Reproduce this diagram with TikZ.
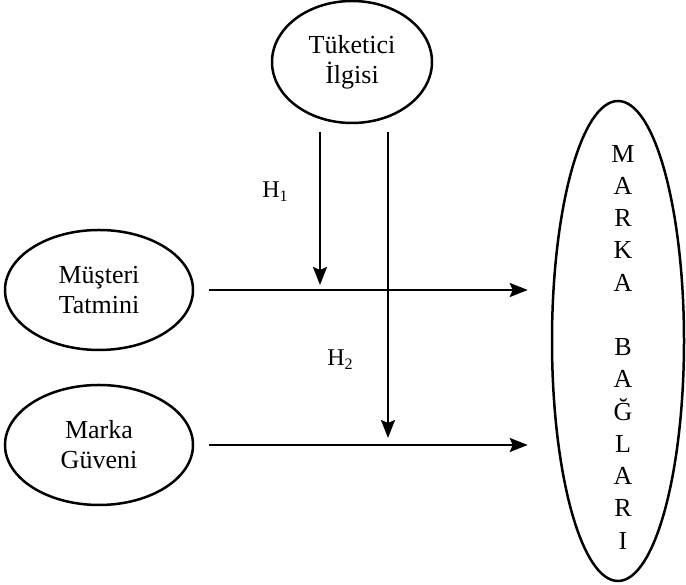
\documentclass[tikz,border=0pt]{standalone}
\usepackage{fontspec}
\setmainfont{Liberation Serif}
\usetikzlibrary{shapes.geometric}
\usetikzlibrary{positioning}
\usetikzlibrary{arrows.meta}

\newcommand{\hyp}[1]{H\raisebox{-0.35ex}{\fontsize{16}{16}\selectfont#1}}

\tikzset{
  oval/.style={ellipse, draw, line width=2.5pt, inner sep=0pt, align=center,
               font=\fontsize{26}{30}\selectfont},
  conn/.style={line width=2.3pt, -{Stealth[length=18pt,width=14pt,inset=3pt]}},
  hlabel/.style={font=\fontsize{24}{28}\selectfont}
}

\begin{document}
\begin{tikzpicture}[x=1pt,y=1pt]
\useasboundingbox (0,0) rectangle (686,585);

%---------------------------------------
% Constructs
%---------------------------------------
\node[oval, minimum width=160, minimum height=122] (ilgi) at (352,523) {Tüketici\\İlgisi};
\node[oval, minimum width=188, minimum height=120] (tatmin) at (99,295) {Müşteri\\Tatmini};
\node[oval, minimum width=188, minimum height=120] (guven) at (99,140) {Marka\\Güveni};
\node[oval, minimum width=132, minimum height=480] (bag) at (618,244) {};
\node[align=center, inner sep=0pt, font=\fontsize{26}{32.25}\selectfont] (bagtext)
      at (623,238) {M\\A\\R\\K\\A\\[32.25pt]B\\A\\Ğ\\L\\A\\R\\I};

% Moderator start points
\coordinate (m1) at (320,453);
\coordinate (m2) at (388,453);

%---------------------------------------
% Main effects
%---------------------------------------
\draw[conn, shorten <=15pt, shorten >=23pt] (tatmin.east) -- (tatmin.east -| bag.west);
\draw[conn, shorten <=15pt, shorten >=23pt] (guven.east) -- (guven.east -| bag.west);

%---------------------------------------
% Moderating effects
%---------------------------------------
\draw[conn, shorten >=5pt] (m1) -- (m1 |- tatmin.east);
\draw[conn, shorten >=7pt] (m2) -- (m2 |- guven.east);

\node[hlabel] (h1) at (275,393) {\hyp{1}};
\node[hlabel] (h2) at (340,225) {\hyp{2}};

\end{tikzpicture}
\end{document}
